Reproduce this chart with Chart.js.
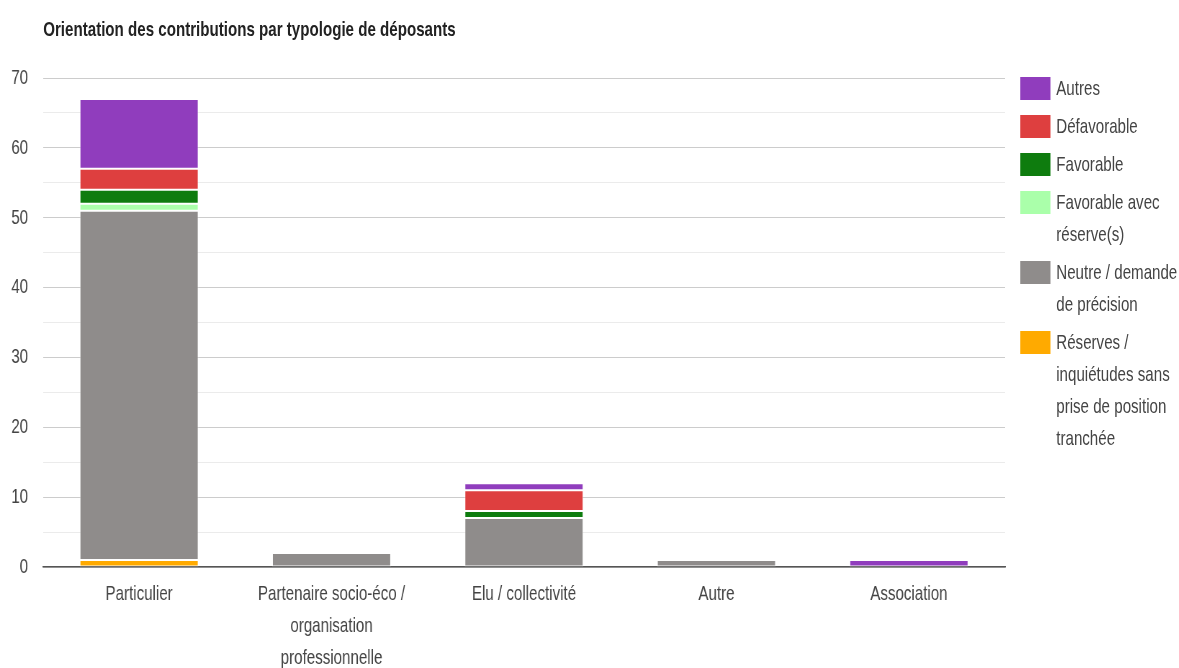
<!DOCTYPE html>
<html>
<head>
<meta charset="utf-8">
<script src="https://cdn.jsdelivr.net/npm/chart.js@4.4.1/dist/chart.umd.min.js"></script>
<style>
  html, body { margin: 0; padding: 0; overflow: hidden; background: #fff; }
  #wrap {
    position: relative;
    width: 1638px; height: 668px;
    transform: scaleX(0.72); transform-origin: 0 0;
    font-family: "Liberation Sans", Arial, sans-serif;
  }
  #title {
    position: absolute; left: 60px; top: 17px;
    font-size: 21px; font-weight: bold; color: #222;
  }
  #legend { position: absolute; left: 1417px; top: 72px; }
  .item { position: relative; padding-left: 50px; width: 175px; margin-bottom: 6px;
          font-size: 21px; line-height: 32px; color: #444; }
  .box { position: absolute; left: 0; top: 5px; width: 42px; height: 23px; }
</style>
</head>
<body>
<div id="wrap">
  <canvas id="chart" width="1638" height="668"></canvas>
  <div id="title">Orientation des contributions par typologie de déposants</div>
  <div id="legend"></div>
</div>
<script>
const categories = ['Particulier', ['Partenaire socio-éco /', 'organisation', 'professionnelle'], 'Elu / collectivité', 'Autre', 'Association'];

// séries, de bas en haut dans la pile
const reserves    = [1, 0, 0, 0, 0];
const neutre      = [50, 2, 7, 1, 0];
const favAvec     = [1, 0, 0, 0, 0];
const favorable   = [2, 0, 1, 0, 0];
const defavorable = [3, 0, 3, 0, 0];
const autres      = [10, 0, 1, 0, 1];

const yTicks = [0, 10, 20, 30, 40, 50, 60, 70];

const series = [
    {label: 'Réserves / inquiétudes sans prise de position tranchée', data: reserves, color: '#ffaa00'},
    {label: 'Neutre / demande de précision', data: neutre, color: '#8f8c8b'},
    {label: 'Favorable avec réserve(s)', data: favAvec, color: '#aaffaa'},
    {label: 'Favorable', data: favorable, color: '#0e7c0e'},
    {label: 'Défavorable', data: defavorable, color: '#de3f3f'},
    {label: 'Autres', data: autres, color: '#903dbd'}
];

new Chart(document.getElementById('chart'), {
    type: 'bar',
    data: {
        labels: categories,
        datasets: series.map(s => ({
            label: s.label,
            data: s.data,
            backgroundColor: s.color,
            borderColor: 'rgba(255,255,255,0.6)',
            borderWidth: 1,
            borderSkipped: false,
            categoryPercentage: 1,
            barPercentage: 0.617
        }))
    },
    options: {
        responsive: false,
        animation: false,
        layout: {padding: {top: 78, right: 242, left: 0, bottom: 0}},
        plugins: {
            legend: {display: false},
            title: {display: false},
            tooltip: {enabled: false}
        },
        scales: {
            x: {
                stacked: true,
                grid: {display: false},
                border: {color: '#555', width: 1.5},
                ticks: {
                    color: '#444',
                    padding: 3,
                    maxRotation: 0,
                    autoSkip: false,
                    font: {family: 'Liberation Sans', size: 21, lineHeight: 32 / 21}
                },
                afterFit: (scale) => { scale.height = 101; }
            },
            y: {
                stacked: true,
                min: 0,
                max: yTicks[yTicks.length - 1],
                border: {display: false},
                grid: {
                    drawTicks: false,
                    color: (ctx) => ctx.tick.value % 10 === 0 ? '#cccccc' : '#ebebeb'
                },
                ticks: {
                    stepSize: 5,
                    color: '#444',
                    padding: 20.5,
                    font: {family: 'Liberation Sans', size: 21},
                    callback: (v) => yTicks.includes(v) ? v : ''
                },
                afterFit: (scale) => { scale.width = 59.5; }
            }
        }
    }
});

const legend = document.getElementById('legend');
series.slice().reverse().forEach(s => {
    const item = document.createElement('div');
    item.className = 'item';
    item.innerHTML = '<span class="box" style="background:' + s.color + '"></span>' + s.label;
    legend.appendChild(item);
});
</script>
</body>
</html>
